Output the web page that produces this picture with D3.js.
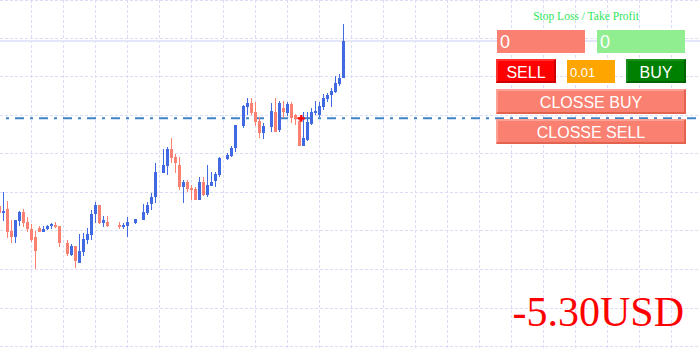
<!DOCTYPE html>
<html><head><meta charset="utf-8">
<script src="https://cdn.jsdelivr.net/npm/d3@7"></script>
<style>html,body{margin:0;padding:0;background:#fff;} svg{display:block}</style>
</head><body><svg id="c" width="700" height="350"></svg>
<script>
// OHLC in price points (null = no bar)
const opens  = [144,137,141,119,113.3,129,137.7,128,120.7,113,121.7,118.3,121,123.7,125.3,124,null,107.3,95,104,87.3,98,110,115,135.7,145,127.3,128,null,null,125,123.3,124,null,127.3,null,130,137.3,146,152.7,null,177.3,184,201,192.7,185,163.3,168,162.3,161,150,168,155,164.3,169.3,175,null,191,194.3,201.7,null,224.3,243.3,246.7,238.3,229.3,217.3,null,223,238.5,220,241.7,236.7,246,235,229.5,204,210,226,237,235,243,250.7,255,258.3,266,271.7];
const highs  = [147,158.5,149,130,130.5,139.3,141,132.7,126.3,119,124,124,125.3,127.5,128,124.5,null,110,106,104.3,116,116.7,121.7,140,147.7,145.5,134,134,null,null,128,126.7,132.7,null,131.3,null,146,148.3,157.3,186.7,null,201,202.7,212.3,196,192.7,170,170,165,163.3,172.7,172.7,185,178.3,178.3,193.3,null,197.3,204,225,null,245,251.7,251.7,248.3,232.7,227.3,null,247,252.3,249,249,248,248,236.5,231,238,237.5,241.7,249,247.7,256,256.7,262,274,276,326];
const lows   = [134,129.5,112,106.7,107,124.3,123,118,108.3,81,118,118,120,121,122,103.3,null,94.5,94,82,87,94,106,110,127,126,123.3,123.3,null,null,121.3,121.3,113.3,null,126,null,130,135,140,147.3,null,177.3,175,186.7,177.3,160,147.3,158.3,150,150,150,154,153.3,164.3,163.3,172.7,null,190,193,198.3,null,221.7,235,235,224,212.5,211,null,218.3,218.3,218.3,232,234,227,224.5,204,204,209,225,235,233.3,240,248,243.3,256.7,264,271.7];
const closes = [137,139,118.5,113.3,130,138.3,126.7,120.7,110,99.3,118.3,121,124,125.7,123.3,107.3,null,96,104.3,89,99,110.7,116,136,145,127.3,130,124,null,null,123.3,125,128,null,131.3,null,138,145,153.3,178,null,185,201,192,186.7,163.3,168.3,161,160.3,150,168,155,165,168,176,191.7,null,195,202.3,225,null,244,246.7,237.3,228.3,217.3,224,null,239,218.3,247,237.5,246,232.5,230.7,204,211.7,228,238,239,244,251.7,255,259.5,267,271.7,309];
const orderIndex = 75.5;      // where the open order was placed
const orderPrice = 231.7;     // open order level
const panelLabels = ["Stop Loss / Take Profit","0","0","SELL","0.01","BUY","CLOSSE BUY","CLOSSE SELL"];
const profitText = "-5.30USD";

const UP = "#4169E1", DOWN = "#FA8072";
const svg = d3.select("#c");
const x = d3.scaleLinear().domain([0, 86]).range([-0.7, 343.3]);
const y = d3.scaleLinear().domain([0, 350]).range([350, 0]);

// grid
const gridIdx = d3.range(8, 176, 8);
const gridPrices = d3.range(10).map(k => 350 - 38.5 * k);
const g = svg.append("g").attr("shape-rendering","crispEdges");
g.selectAll("line.v").data(gridIdx).join("line").attr("class","v")
  .attr("x1", d => Math.round(x(d)) + 0.5).attr("x2", d => Math.round(x(d)) + 0.5)
  .attr("y1", 0).attr("y2", 350)
  .attr("stroke", "#dcdcf6").attr("stroke-dasharray", "3,2");
g.selectAll("line.h").data(gridPrices).join("line").attr("class","h")
  .attr("y1", d => Math.floor(y(d)) + 0.5).attr("y2", d => Math.floor(y(d)) + 0.5)
  .attr("x1", 0).attr("x2", 700)
  .attr("stroke", "#dcdcf6").attr("stroke-dasharray", "3,2");

// bid line at last close
const lastClose = closes[closes.length - 1];
svg.append("line").attr("x1",0).attr("x2",700)
  .attr("y1", y(lastClose)).attr("y2", y(lastClose))
  .attr("stroke","#e6e6fa").attr("stroke-width",2);

// order line (dash-dot)
svg.append("line").attr("x1",0).attr("x2",700)
  .attr("y1", y(orderPrice)).attr("y2", y(orderPrice))
  .attr("stroke","#3d85c6").attr("stroke-width",2)
  .attr("stroke-dasharray","3,6,9,6").attr("stroke-dashoffset",18);

// candles
const bars = opens.map((o,i) => ({i, o, h: highs[i], l: lows[i], c: closes[i]})).filter(d => d.o !== null);
const cg = svg.append("g").attr("shape-rendering","crispEdges");
const left = d => Math.round(x(d.i) - 1.5);
cg.selectAll("line").data(bars).join("line")
  .attr("x1", d => left(d) + 1.5).attr("x2", d => left(d) + 1.5)
  .attr("y1", d => Math.round(y(d.h))).attr("y2", d => Math.round(y(d.l)))
  .attr("stroke", d => d.c >= d.o ? UP : DOWN).attr("stroke-width", 1);
cg.selectAll("rect").data(bars).join("rect")
  .attr("x", d => left(d)).attr("width", 3)
  .attr("y", d => Math.round(y(Math.max(d.o, d.c))))
  .attr("height", d => Math.max(1, Math.round(y(Math.min(d.o, d.c))) - Math.round(y(Math.max(d.o, d.c)))))
  .attr("fill", d => d.c >= d.o ? UP : DOWN);

// order marker
const mx = x(orderIndex), my = y(orderPrice);
svg.append("line").attr("x1", mx - 4).attr("x2", mx).attr("y1", my).attr("y2", my)
  .attr("stroke","#ff0000").attr("stroke-width",1.5);
svg.append("path").attr("d", d3.symbol(d3.symbolCross).size(26)())
  .attr("transform", `translate(${mx},${my})`).attr("fill","#ff0000");

// panel
const P = svg.append("g");
function bevel(xp, yp, w, h, fill, light, dark) {
  P.append("rect").attr("x", xp).attr("y", yp).attr("width", w).attr("height", h).attr("fill", fill);
  P.append("path").attr("d", `M${xp+1},${yp+h-1}V${yp+1}H${xp+w-1}`).attr("fill","none").attr("stroke", light).attr("stroke-width",2);
  P.append("path").attr("d", `M${xp+1},${yp+h-1}H${xp+w-1}V${yp+1}`).attr("fill","none").attr("stroke", dark).attr("stroke-width",2);
}
function label(t, xp, yp, size, anchor) {
  P.append("text").attr("x", xp).attr("y", yp).text(t)
    .attr("font-family","'Liberation Sans', Arial, sans-serif").attr("font-size", size)
    .attr("fill","#fff").attr("text-anchor", anchor);
}
P.append("text").attr("x", 586).attr("y", 19.5).text(panelLabels[0])
  .attr("font-family","'Liberation Serif','Times New Roman',serif").attr("font-size", 11.5)
  .attr("fill","#2ee65a").attr("text-anchor","middle");
P.append("rect").attr("x",497).attr("y",30).attr("width",88).attr("height",23).attr("fill","#FA8072");
P.append("rect").attr("x",597).attr("y",30).attr("width",88).attr("height",23).attr("fill","#90EE90");
label(panelLabels[1], 500, 48, 18, "start");
label(panelLabels[2], 600, 48, 18, "start");
bevel(496, 59, 60, 24, "#ff0000", "#ff3030", "#cc0000");
label(panelLabels[3], 526, 77.5, 16, "middle");
P.append("rect").attr("x",567).attr("y",60).attr("width",48).attr("height",23).attr("fill","#FFA500");
label(panelLabels[4], 570, 76.5, 13, "start");
bevel(626, 59, 60, 24, "#008000", "#1a8f1a", "#006400");
label(panelLabels[5], 656, 77.5, 16, "middle");
bevel(496, 89, 190, 25, "#FA8072", "#ffa094", "#e4634f");
label(panelLabels[6], 591, 108, 16, "middle");
bevel(496, 119, 190, 25, "#FA8072", "#ffa094", "#e4634f");
label(panelLabels[7], 591, 138, 16, "middle");

// profit text
svg.append("text").attr("x", 684).attr("y", 325.5).text(profitText)
  .attr("font-family","'Liberation Serif','Times New Roman',serif").attr("font-size", 42)
  .attr("fill","#ff0000").attr("text-anchor","end");
</script></body></html>
